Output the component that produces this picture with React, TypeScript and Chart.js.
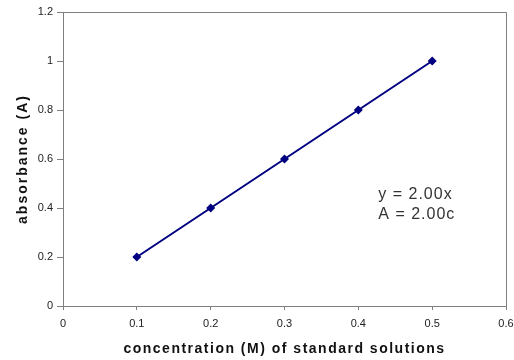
import React, { useEffect, useRef } from "react";
import { Chart, registerables } from "chart.js";

Chart.register(...registerables);

const concentrations = [0.1, 0.2, 0.3, 0.4, 0.5];
const absorbances = [0.2, 0.4, 0.6, 0.8, 1.0];
const equationLines = ["y = 2.00x", "A = 2.00c"];
const xTitle = "concentration (M) of standard solutions";
const yTitle = "absorbance (A)";

const fmt = (v: any) => String(Number(Number(v).toFixed(2)));

export default function App() {
  const ref = useRef<HTMLCanvasElement | null>(null);

  useEffect(() => {
    document.body.style.margin = "0";
    const canvas = ref.current;
    if (!canvas) return;

    const overlay = {
      id: "overlay",
      afterDraw(chart: any) {
        const { ctx, chartArea, scales } = chart;
        ctx.save();
        // frame
        ctx.strokeStyle = "#7f7f7f";
        ctx.lineWidth = 1;
        ctx.beginPath();
        ctx.moveTo(chartArea.left, chartArea.top + 0.5);
        ctx.lineTo(chartArea.right + 0.5, chartArea.top + 0.5);
        ctx.lineTo(chartArea.right + 0.5, chartArea.bottom);
        ctx.stroke();
        // equation text
        ctx.fillStyle = "#333333";
        ctx.font = "16px 'Liberation Sans', Arial, sans-serif";
        (ctx as any).letterSpacing = "1px";
        ctx.textAlign = "left";
        ctx.textBaseline = "middle";
        const x0 = scales.x.getPixelForValue(0.427);
        const y0 = scales.y.getPixelForValue(0.455);
        equationLines.forEach((t, i) => ctx.fillText(t, x0, y0 + i * 20));
        // titles
        ctx.fillStyle = "#111111";
        ctx.font = "bold 14px 'Liberation Sans', Arial, sans-serif";
        (ctx as any).letterSpacing = "1.5px";
        ctx.textAlign = "center";
        ctx.fillText(xTitle, (chartArea.left + chartArea.right) / 2, 349);
        (ctx as any).letterSpacing = "2px";
        ctx.translate(23, (chartArea.top + chartArea.bottom) / 2);
        ctx.rotate(-Math.PI / 2);
        ctx.fillText(yTitle, 0, 0);
        ctx.restore();
      },
    };

    const chart = new Chart(canvas, {
      type: "scatter",
      data: {
        datasets: [
          {
            data: concentrations.map((c, i) => ({ x: c, y: absorbances[i] })),
            showLine: true,
            borderColor: "#000080",
            backgroundColor: "#000080",
            borderWidth: 2,
            pointStyle: "rectRot",
            pointRadius: 4.5,
            pointBorderWidth: 0,
          },
        ],
      },
      options: {
        animation: false,
        responsive: false,
        maintainAspectRatio: false,
        layout: { padding: { left: 0, top: 12, right: 0, bottom: 0 } },
        plugins: { legend: { display: false }, tooltip: { enabled: false } },
        scales: {
          x: {
            type: "linear",
            min: 0,
            max: 0.6,
            afterFit: (s: any) => {
              s.height = 54;
              s.paddingRight = 8;
            },
            ticks: {
              stepSize: 0.1,
              color: "#222222",
              font: { family: "'Liberation Sans', Arial, sans-serif", size: 11 },
              padding: 7,
              maxRotation: 0,
              callback: fmt,
            },
            grid: { drawOnChartArea: false, tickLength: 4, color: "#7f7f7f" },
            border: { color: "#7f7f7f", width: 1 },
          },
          y: {
            type: "linear",
            min: 0,
            max: 1.2,
            afterFit: (s: any) => {
              s.width = 63;
            },
            ticks: {
              stepSize: 0.2,
              color: "#222222",
              font: { family: "'Liberation Sans', Arial, sans-serif", size: 11 },
              padding: 4,
              callback: fmt,
            },
            grid: { drawOnChartArea: false, tickLength: 6, color: "#7f7f7f" },
            border: { color: "#7f7f7f", width: 1 },
          },
        },
      },
      plugins: [overlay],
    });
    return () => chart.destroy();
  }, []);

  return (
    <div style={{ position: "fixed", left: 0, top: 0, width: 514, height: 360, background: "#fff" }}>
      <canvas ref={ref} width={514} height={360} />
    </div>
  );
}
